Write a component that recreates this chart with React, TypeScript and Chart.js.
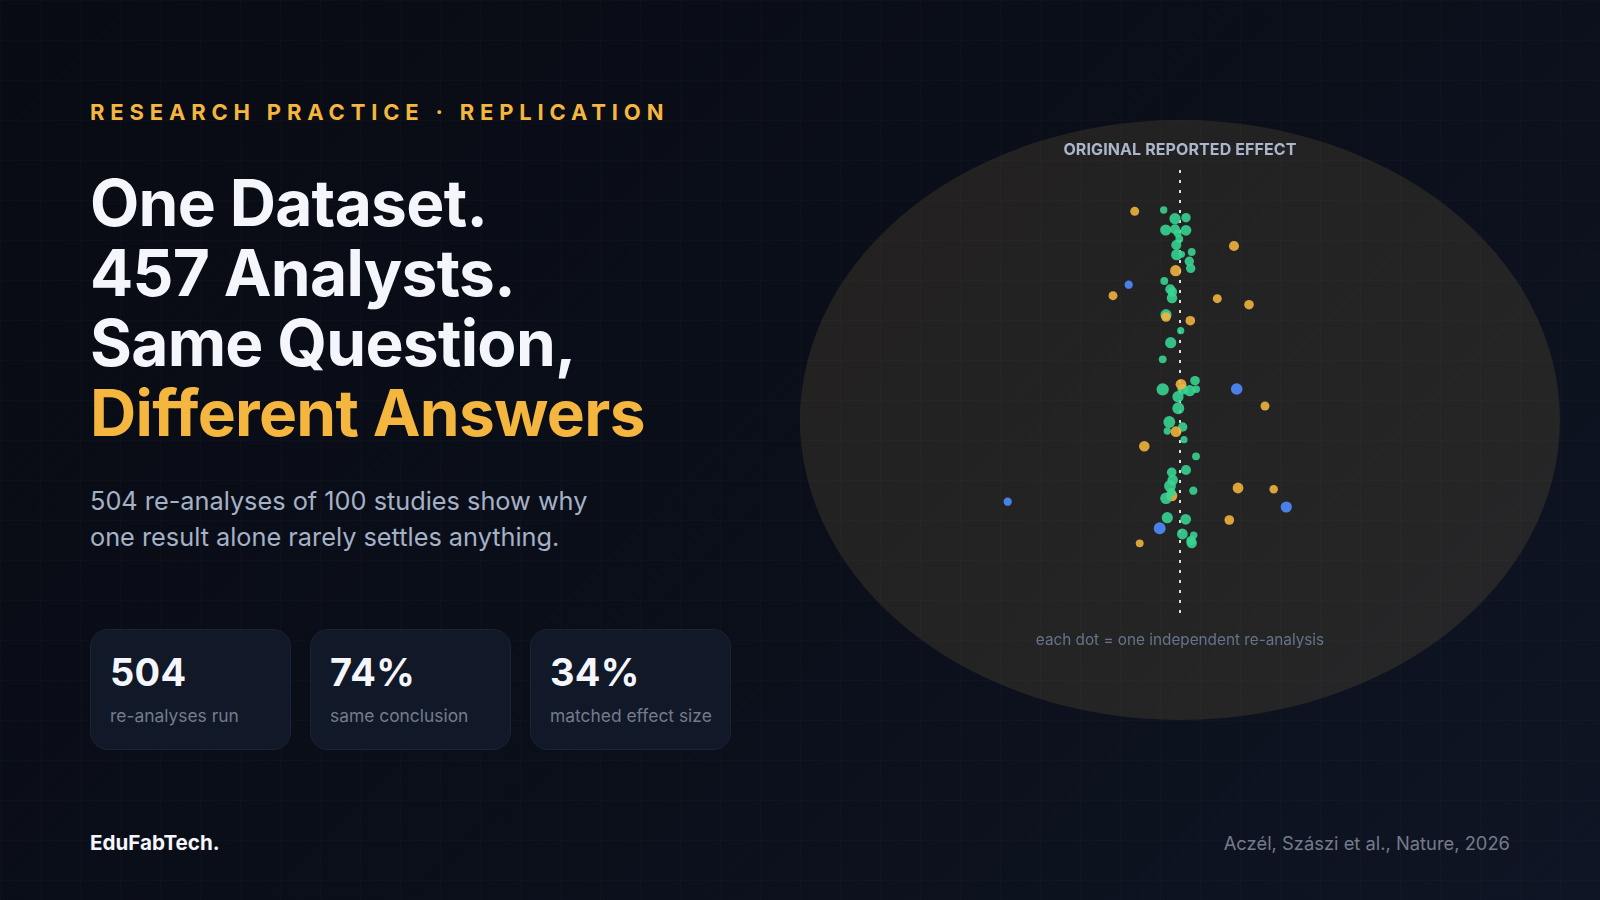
import { useEffect, useRef } from 'react'
import Chart from 'chart.js/auto'

// x = distance from the original effect, y = row of the re-analysis, weight = dot size
const greenX = [-0.163, -0.05, 0.06, -0.143, -0.05, 0.06, -0.023, -0.007, -0.037, 0.117, -0.033, 0.017, 0.093, 0.107, -0.157, -0.097, -0.077, -0.08, -0.14, 0.007, -0.093, -0.173, 0.15, -0.173, 0.027, 0.097, 0.163, -0.02, -0.017, -0.107, 0.027, -0.127, 0.04, 0.16, 0.06, -0.083, -0.073, -0.1, -0.087, 0.133, -0.14, -0.127, 0.057, 0.023, 0.137, 0.11, 0.117]
const greenY = [90, 98.7, 97.7, 110, 109.3, 110.3, 113.3, 119, 125, 132, 134.7, 134.3, 141.3, 148.3, 161, 169.3, 172, 178, 194.7, 210.7, 222.7, 239.3, 260.7, 269.3, 269.3, 270.7, 269.3, 276.7, 288.3, 302, 307, 311, 319.7, 336.3, 350, 352.3, 360, 366, 372.3, 370.7, 378.3, 397.7, 399.3, 414, 415.3, 420.7, 423]
const greenWeight = [3.3, 5, 4.2, 5, 4.5, 4.8, 3.5, 3.5, 4.5, 3.5, 5, 3, 4.2, 4.2, 3.5, 4.5, 4.3, 4.7, 5, 3.2, 5, 3.5, 4.3, 5.5, 4.7, 5, 3.3, 5, 5.3, 5.3, 4.2, 3.3, 3.2, 3.5, 4.5, 4.3, 4.7, 5.3, 4, 3.7, 5.2, 5, 4.8, 4.8, 3.3, 4.2, 4.7]

const amberX = [-0.453, 0.54, -0.043, -0.67, 0.373, 0.69, -0.14, 0.103, 0.01, 0.85, -0.04, -0.357, 0.58, 0.937, 0.493, -0.403]
const amberY = [91.3, 126, 150.7, 175.7, 178.7, 184.7, 197, 200.7, 264.3, 286, 311.7, 326.3, 368, 369.3, 400, 423.3]
const amberWeight = [4, 4.5, 5, 4, 4, 4.3, 4.3, 4.3, 4.8, 4, 4.8, 4.7, 4.8, 3.8, 4.3, 3.5]

// this one sits underneath the green cluster
const amberBackX = [-0.083]
const amberBackY = [375.7]
const amberBackWeight = [5]

const blueX = [-0.513, 0.567, -1.723, 1.063, -0.203]
const blueY = [164.7, 269, 381.7, 387, 408.3]
const blueWeight = [3.7, 5.2, 3.7, 5, 5.3]

const refX = [0, 0]
const refY = [50, 493]

const stats = [
  { value: '504', label: 're-analyses run' },
  { value: '74%', label: 'same conclusion' },
  { value: '34%', label: 'matched effect size' },
]

const toPoints = (xs: number[], ys: number[], ws: number[]) =>
  xs.map((x, i) => ({ x, y: ys[i], r: ws[i] * 1.12 }))

function DotChart() {
  const chartRef = useRef<HTMLCanvasElement>(null)

  useEffect(() => {
    if (!chartRef.current) return

    const amber = 'rgba(245,182,63,0.88)'
    const chart = new Chart(chartRef.current, {
      type: 'bubble',
      data: {
        datasets: [
          {
            type: 'line',
            data: refX.map((x, i) => ({ x, y: refY[i] })),
            borderColor: 'rgba(255,255,255,0.85)',
            borderWidth: 2,
            borderDash: [3, 7],
            pointRadius: 0,
            order: 4,
          },
          {
            data: toPoints(amberBackX, amberBackY, amberBackWeight),
            backgroundColor: amber,
            borderWidth: 0,
            order: 3,
          },
          {
            label: 'same conclusion',
            data: toPoints(greenX, greenY, greenWeight),
            backgroundColor: 'rgba(56,214,148,0.88)',
            borderWidth: 0,
            order: 2,
          },
          {
            label: 'smaller effect',
            data: toPoints(amberX, amberY, amberWeight),
            backgroundColor: amber,
            borderWidth: 0,
            order: 1,
          },
          {
            label: 'opposite',
            data: toPoints(blueX, blueY, blueWeight),
            backgroundColor: 'rgba(79,140,255,0.9)',
            borderWidth: 0,
            order: 0,
          },
        ],
      } as any,
      options: {
        animation: false,
        responsive: false,
        devicePixelRatio: 1,
        layout: { padding: 0, autoPadding: false },
        plugins: { legend: { display: false }, tooltip: { enabled: false } },
        scales: {
          x: { type: 'linear', min: -3.8, max: 3.8, display: false },
          y: { type: 'linear', min: 0, max: 600, reverse: true, display: false },
        },
      },
    })

    return () => chart.destroy()
  }, [])

  return (
    <canvas
      ref={chartRef}
      width={760}
      height={600}
      style={{ position: 'absolute', left: 800, top: 120, width: 760, height: 600 }}
    />
  )
}

export default function App() {
  useEffect(() => {
    document.body.style.margin = '0'
  }, [])

  return (
    <div
      style={{
        position: 'relative',
        width: 1600,
        height: 900,
        overflow: 'hidden',
        fontFamily: 'Inter, sans-serif',
        background: 'linear-gradient(135deg, #080b13 0%, #0b0f1a 55%, #0f1524 100%)',
      }}
    >
      <div
        style={{
          position: 'absolute',
          left: 800,
          top: 120,
          width: 760,
          height: 600,
          borderRadius: '50%',
          background: 'rgba(255,205,105,0.1)',
        }}
      />
      <div
        style={{
          position: 'absolute',
          inset: 0,
          backgroundImage:
            'linear-gradient(rgba(255,255,255,0.014) 1px, transparent 1px), linear-gradient(90deg, rgba(255,255,255,0.014) 1px, transparent 1px)',
          backgroundSize: '40px 40px',
        }}
      />

      <div
        style={{
          position: 'absolute',
          left: 90,
          top: 98,
          fontSize: 22,
          lineHeight: '28px',
          fontWeight: 700,
          letterSpacing: '5.83px',
          color: '#f5b63f',
          whiteSpace: 'nowrap',
        }}
      >
        RESEARCH PRACTICE · REPLICATION
      </div>

      <div
        style={{
          position: 'absolute',
          left: 90,
          top: 168,
          fontSize: 64,
          lineHeight: '70px',
          fontWeight: 700,
          letterSpacing: '-0.7px',
          color: '#f4f6fc',
          whiteSpace: 'nowrap',
        }}
      >
        <div>One Dataset.</div>
        <div>457 Analysts.</div>
        <div>Same Question,</div>
        <div style={{ color: '#f5b63f' }}>Different Answers</div>
      </div>

      <div
        style={{
          position: 'absolute',
          left: 90,
          top: 483,
          fontSize: 25.3,
          lineHeight: '36px',
          color: '#a5b1c7',
          whiteSpace: 'nowrap',
        }}
      >
        <div>504 re-analyses of 100 studies show why</div>
        <div>one result alone rarely settles anything.</div>
      </div>

      {stats.map((s, i) => (
        <div
          key={s.label}
          style={{
            position: 'absolute',
            left: 89.5 + i * 220,
            top: 629,
            width: 201,
            height: 121,
            boxSizing: 'border-box',
            borderRadius: 18,
            border: '1px solid #1b2436',
            background: '#111827',
          }}
        >
          <div
            style={{
              position: 'absolute',
              left: 19.5,
              top: 18.5,
              fontSize: 38,
              lineHeight: '46px',
              fontWeight: 700,
              letterSpacing: '0.3px',
              color: '#f4f6fc',
              whiteSpace: 'nowrap',
            }}
          >
            {s.value}
          </div>
          <div
            style={{
              position: 'absolute',
              left: 19.5,
              top: 73.5,
              fontSize: 17.4,
              lineHeight: '24px',
              color: '#747c8c',
              whiteSpace: 'nowrap',
            }}
          >
            {s.label}
          </div>
        </div>
      ))}

      <div
        style={{
          position: 'absolute',
          left: 90,
          top: 830,
          fontSize: 20.6,
          lineHeight: '26px',
          fontWeight: 700,
          color: '#f4f6fc',
        }}
      >
        EduFabTech.
      </div>
      <div
        style={{
          position: 'absolute',
          right: 90,
          top: 829.5,
          fontSize: 18.35,
          lineHeight: '26px',
          color: '#747c8c',
        }}
      >
        Aczél, Szászi et al., Nature, 2026
      </div>

      <DotChart />

      <div
        style={{
          position: 'absolute',
          left: 800,
          width: 760,
          top: 138,
          textAlign: 'center',
          fontSize: 16,
          lineHeight: '22px',
          fontWeight: 700,
          letterSpacing: '0.1px',
          color: '#a9b6cc',
        }}
      >
        ORIGINAL REPORTED EFFECT
      </div>
      <div
        style={{
          position: 'absolute',
          left: 800,
          width: 760,
          top: 629,
          textAlign: 'center',
          fontSize: 15.3,
          lineHeight: '22px',
          color: '#64748b',
        }}
      >
        each dot = one independent re-analysis
      </div>
    </div>
  )
}
